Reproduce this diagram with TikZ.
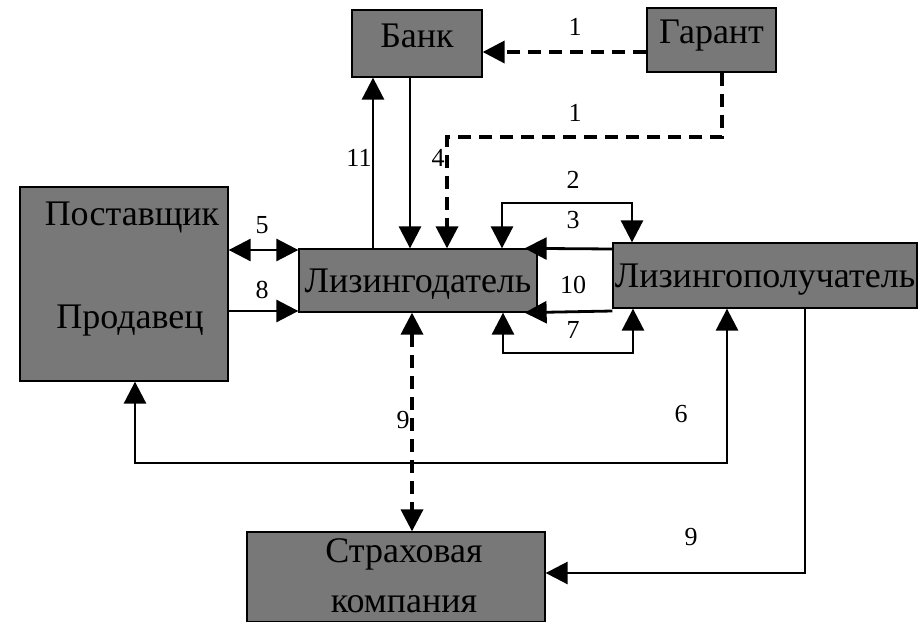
\documentclass[tikz,border=0pt]{standalone}
\usepackage{fontspec}
\setmainfont{Liberation Serif}
\usetikzlibrary{arrows.meta}
\definecolor{boxgray}{gray}{0.47}
\begin{document}
\begin{tikzpicture}[x=1pt,y=-1pt,
  boxtext/.style={font=\fontsize{36}{42}\selectfont},
  box/.style={draw=black,line width=1.3pt,fill=boxgray,inner sep=0pt,
    text height=23pt,text depth=0pt,boxtext},
  btext/.style={boxtext,inner sep=0pt,anchor=base},
  conn/.style={line width=2.8pt,draw=black},
  dconn/.style={line width=3.6pt,draw=black,dash pattern=on 13pt off 8pt},
  lbl/.style={font=\fontsize{26}{30}\selectfont,inner sep=0pt},
  >={Triangle[length=22pt,width=22pt]}
]
\useasboundingbox[fill=white] (0,0) rectangle (923,621);

% boxes
\node[box,minimum width=130pt,minimum height=67pt,text depth=16pt] (bank) at (417,43.5) {Банк};
\node[box,minimum width=129pt,minimum height=64pt,text depth=16pt] (garant) at (711.5,40) {Гарант};
\node[box,minimum width=208pt,minimum height=194pt] (post) at (124,284) {};
\node[btext] (postt1) at (132,225) {Поставщик};
\node[btext] (postt2) at (130,328) {Продавец};
\node[box,minimum width=238pt,minimum height=63pt] (ld) at (418,280.5) {Лизингодатель};
\node[box,minimum width=304pt,minimum height=65pt] (lp) at (765,275.5) {Лизингополучатель};
\node[box,minimum width=298pt,minimum height=90pt] (ins) at (396,577) {};
\node[btext] (inst1) at (404,562) {Страховая};
\node[btext] (inst2) at (404,612) {компания};

% connectors
\draw[conn,->] (ld.north -| 373,0) -- (bank.south -| 373,0);
\draw[conn,->] (bank.south -| 410,0) -- (ld.north -| 410,0);
\draw[dconn,->] (garant.west |- 0,52) -- (bank.east |- 0,52);
\draw[dconn,->] (garant.south -| 722,0) -- (722,137) -- (447,137) -- (ld.north -| 447,0);
\draw[conn,<->] (ld.north -| 502,0) -- (502,203) -- (632,203) -- (lp.north -| 632,0);
\draw[conn,->] (lp.west |- 0,249) -- ([xshift=-13pt]ld.north east);
\draw[conn,->] (lp.west |- 0,311) -- ([xshift=-13pt]ld.south east);
\draw[conn,<->] (ld.south -| 503,0) -- (503,353) -- (633,353) -- (lp.south -| 633,0);
\draw[conn,<->] (post.east |- 0,250) -- (ld.west |- 0,250);
\draw[conn,->] (post.east |- 0,311) -- (ld.west |- 0,311);
\draw[dconn,<->] (ld.south -| 412,0) -- (ins.north -| 412,0);
\draw[conn,<->] (lp.south -| 727,0) -- (727,463) -- (135,463) -- (post.south -| 135,0);
\draw[conn,->] (lp.south -| 805,0) -- (805,573) -- (ins.east |- 0,573);

% labels
\node[lbl] (n1a) at (575,27) {1};
\node[lbl] (n1b) at (575,113) {1};
\node[lbl] (n4) at (438,158) {4};
\node[lbl] (n11) at (359,158) {11};
\node[lbl] (n2) at (573,180) {2};
\node[lbl] (n3) at (573,220) {3};
\node[lbl] (n10) at (573,285) {10};
\node[lbl] (n7) at (573,330) {7};
\node[lbl] (n5) at (262,225) {5};
\node[lbl] (n8) at (262,290) {8};
\node[lbl] (n9a) at (403,420) {9};
\node[lbl] (n6) at (681,414) {6};
\node[lbl] (n9b) at (691,537) {9};
\end{tikzpicture}
\end{document}
